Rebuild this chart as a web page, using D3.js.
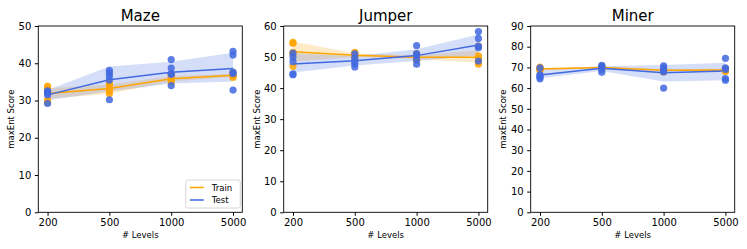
<!DOCTYPE html>
<html>
<head>
<meta charset="utf-8">
<script src="https://cdn.jsdelivr.net/npm/d3@7"></script>
<style>
  body { margin: 0; background: #fff; }
  svg text { font-family: "DejaVu Sans", sans-serif; fill: #000; }
</style>
</head>
<body>
<div id="chart"></div>
<script>
// x categories
var levels = ["200", "500", "1000", "5000"];
var games = ["Maze", "Jumper", "Miner"];
var yMax = [50, 60, 90];

// per-seed scores, one array per level
var mazeTrain = [[33.9, 33.3, 32.5, 30.2, 29.5], [34.6, 34.1, 33.2, 32.5, 31.8], [37.0, 36.3, 35.7, 35.3, 35.0], [37.5, 37.0, 36.8, 36.5, 36.2]];
var mazeTest = [[32.6, 32.3, 32.0, 31.5, 29.2], [38.1, 37.4, 36.6, 35.5, 30.2], [41.0, 38.7, 37.2, 37.0, 34.0], [43.2, 42.2, 37.6, 37.2, 32.8]];
var jumperTrain = [[54.7, 54.4, 51.5, 51.0, 47.0], [51.5, 51.0, 50.5, 50.0, 49.8], [51.0, 50.5, 49.8, 49.3, 49.0], [53.5, 50.4, 49.6, 48.3, 47.7]];
var jumperTest = [[51.3, 50.0, 48.5, 44.6, 44.3], [51.0, 49.7, 48.6, 47.8, 46.8], [53.7, 51.1, 50.6, 49.2, 47.7], [58.2, 56.0, 53.5, 53.0, 48.7]];
var minerTrain = [[70.2, 69.6, 69.2, 68.9, 68.5], [70.5, 70.2, 69.9, 69.6, 69.3], [69.5, 69.0, 68.6, 68.2, 67.8], [69.6, 69.2, 68.8, 68.4, 68.0]];
var minerTest = [[69.8, 66.5, 65.8, 65.2, 64.5], [71.0, 70.4, 69.8, 69.0, 67.6], [70.8, 69.8, 68.4, 67.8, 60.0], [74.4, 69.8, 69.0, 64.6, 63.8]];

// confidence bands [low, high]
var mazeTrainCI = [[30.5, 33.3], [31.8, 34.3], [35.1, 36.6], [36.4, 37.2]];
var mazeTestCI = [[30.1, 32.8], [32.4, 39.1], [34.6, 40.4], [35.1, 42.8]];
var jumperTrainCI = [[48.5, 55.0], [50.0, 51.2], [49.4, 50.5], [48.2, 52.2]];
var jumperTestCI = [[45.0, 51.2], [47.3, 50.3], [48.7, 52.5], [50.5, 57.3]];
var minerTrainCI = [[68.8, 69.8], [69.5, 70.3], [68.2, 69.1], [68.3, 69.3]];
var minerTestCI = [[64.8, 69.0], [68.3, 70.5], [63.2, 71.2], [63.8, 72.2]];

var trainColor = "orange", testColor = "royalblue";

var panels = [
  {train: mazeTrain, test: mazeTest, trainCI: mazeTrainCI, testCI: mazeTestCI, left: 38.3},
  {train: jumperTrain, test: jumperTest, trainCI: jumperTrainCI, testCI: jumperTestCI, left: 283.7},
  {train: minerTrain, test: minerTest, trainCI: minerTrainCI, testCI: minerTestCI, left: 530.7}
];

var width = 747, height = 249;
var pw = 204, top0 = 26, bottom0 = 212.3;

var svg = d3.select("#chart").append("svg")
  .attr("width", width)
  .attr("height", height);

panels.forEach(function(p, pi) {
  var g = svg.append("g").attr("transform", "translate(" + p.left + ",0)");

  var x = d3.scaleLinear().domain([-0.15, 3.15]).range([0, pw]);
  var y = d3.scaleLinear().domain([0, yMax[pi]]).range([bottom0, top0]);

  var mean = function(a) { return d3.mean(a); };

  var series = [
    {vals: p.train, ci: p.trainCI, color: trainColor},
    {vals: p.test, ci: p.testCI, color: testColor}
  ];

  // bands
  series.forEach(function(s) {
    var area = d3.area()
      .x(function(d, i) { return x(i); })
      .y0(function(d) { return y(d[0]); })
      .y1(function(d) { return y(d[1]); });
    g.append("path").datum(s.ci)
      .attr("d", area)
      .attr("fill", s.color)
      .attr("fill-opacity", 0.22);
  });

  // mean lines
  series.forEach(function(s) {
    var line = d3.line()
      .x(function(d, i) { return x(i); })
      .y(function(d) { return y(mean(d)); });
    g.append("path").datum(s.vals)
      .attr("d", line)
      .attr("fill", "none")
      .attr("stroke", s.color)
      .attr("stroke-width", 1.5);
  });

  // scatter
  series.forEach(function(s) {
    s.vals.forEach(function(arr, i) {
      g.selectAll(null).data(arr).enter()
        .append("circle")
        .attr("cx", x(i))
        .attr("cy", function(d) { return y(d); })
        .attr("r", 3.6)
        .attr("fill", s.color)
        .attr("fill-opacity", 0.85);
    });
  });

  // axes
  var xAxis = d3.axisBottom(x).tickValues([0, 1, 2, 3])
    .tickFormat(function(d) { return levels[d]; })
    .tickSize(3.5).tickPadding(3.5);
  var gx = g.append("g").attr("transform", "translate(0," + bottom0 + ")").call(xAxis);
  gx.select(".domain").remove();
  gx.selectAll("text").style("font-size", "10px").style("font-family", "DejaVu Sans");

  var yAxis = d3.axisLeft(y).ticks(yMax[pi] / 10).tickSize(3.5).tickPadding(3.5);
  var gy = g.append("g").call(yAxis);
  gy.select(".domain").remove();
  gy.selectAll("text").style("font-size", "10px").style("font-family", "DejaVu Sans");

  g.append("rect")
    .attr("x", 0).attr("y", top0)
    .attr("width", pw).attr("height", bottom0 - top0)
    .attr("fill", "none").attr("stroke", "#000").attr("stroke-width", 0.9);

  // title and labels
  g.append("text")
    .attr("x", pw / 2).attr("y", 21)
    .attr("text-anchor", "middle")
    .style("font-size", "15px")
    .text(games[pi]);

  g.append("text")
    .attr("x", pw / 2).attr("y", 238)
    .attr("text-anchor", "middle")
    .style("font-size", "8.5px")
    .text("# Levels");

  var yl = pi == 0 ? -21 : (pi == 1 ? -21 : -22);
  g.append("text")
    .attr("transform", "translate(" + (yl - 3) + "," + ((top0 + bottom0) / 2) + ") rotate(-90)")
    .attr("text-anchor", "middle")
    .style("font-size", "8.5px")
    .text("maxEnt Score");

  // legend on first panel
  if (pi == 0) {
    var lg = g.append("g").attr("transform", "translate(" + (pw - 56.5) + "," + 180 + ")");
    lg.append("rect").attr("width", 54.5).attr("height", 28)
      .attr("rx", 2).attr("fill", "#fff").attr("fill-opacity", 0.8)
      .attr("stroke", "#ccc").attr("stroke-width", 0.8);
    ["Train", "Test"].forEach(function(name, k) {
      lg.append("line")
        .attr("x1", 4).attr("x2", 18)
        .attr("y1", 7.5 + k * 12.5).attr("y2", 7.5 + k * 12.5)
        .attr("stroke", k == 0 ? trainColor : testColor).attr("stroke-width", 1.5);
      lg.append("text")
        .attr("x", 26).attr("y", 10.5 + k * 12.5)
        .style("font-size", "8.5px")
        .text(name);
    });
  }
});
</script>
</body>
</html>
